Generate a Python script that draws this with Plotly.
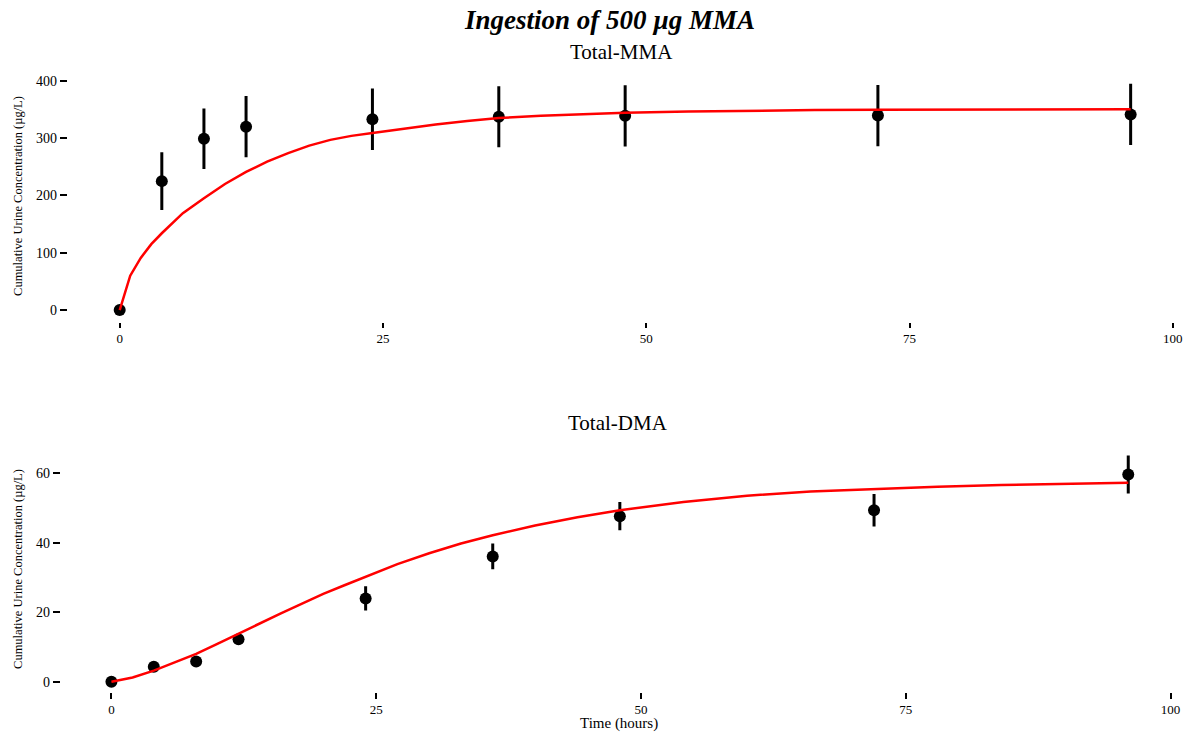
import plotly.graph_objects as go

# ---- data ----
obs_time = [0, 4, 8, 12, 24, 36, 48, 72, 96]

mma_mean = [0, 225, 299, 320, 333, 337.5, 339, 339.5, 341.5]
mma_sd = [0, 50.5, 53, 53.5, 53.5, 53.3, 53.5, 53.5, 53.5]

dma_mean = [0, 4.3, 5.8, 12.2, 24.0, 36.1, 47.7, 49.4, 59.7]
dma_sd = [0, 0.8, 0.8, 0.8, 3.5, 3.7, 4.05, 4.7, 5.45]

mma_fit_time = [0, 1, 2, 3, 4, 5, 6, 8, 10, 12, 14, 16, 18, 20, 22, 24, 27, 30, 33, 36,
                40, 44, 48, 54, 60, 66, 72, 78, 84, 90, 96]
mma_fit = [0, 60, 91, 115, 134, 152, 169, 195, 220, 241, 259, 274, 287, 297, 304, 309,
           317, 324, 330, 335, 339, 342, 344.5, 346.5, 348, 349, 349.5, 350, 350.3, 350.5, 350.5]

dma_fit_time = [0, 2, 4, 6, 8, 10, 12, 14, 16, 18, 20, 22, 24, 27, 30, 33, 36, 40, 44, 48,
                54, 60, 66, 72, 78, 84, 90, 96]
dma_fit = [0, 1.2, 3.2, 5.5, 8.0, 10.9, 13.9, 16.8, 19.7, 22.5, 25.3, 27.8, 30.2, 33.9,
           37.0, 39.8, 42.2, 45.0, 47.4, 49.4, 51.8, 53.6, 54.8, 55.6, 56.2, 56.7, 57.0, 57.3]

x_ticks = [0, 25, 50, 75, 100]
mma_y_ticks = [0, 100, 200, 300, 400]
dma_y_ticks = [0, 20, 40, 60]

main_title = "<b><i>Ingestion of 500 µg MMA</i></b>"
panel_titles = ["Total-MMA", "Total-DMA"]
y_title = "Cumulative Urine Concentration (µg/L)"
x_title = "Time (hours)"

FONT = "Liberation Serif"
W, H = 1192, 736

fig = go.Figure()

# Top panel
fig.add_trace(go.Scatter(
    x=obs_time, y=mma_mean, mode="markers",
    marker=dict(color="black", size=12),
    error_y=dict(type="data", array=mma_sd, visible=True, color="black", thickness=3, width=0),
    xaxis="x", yaxis="y", showlegend=False))
fig.add_trace(go.Scatter(
    x=mma_fit_time, y=mma_fit, mode="lines",
    line=dict(color="#ff0000", width=2.5),
    xaxis="x", yaxis="y", showlegend=False))

# Bottom panel
fig.add_trace(go.Scatter(
    x=obs_time, y=dma_mean, mode="markers",
    marker=dict(color="black", size=12),
    error_y=dict(type="data", array=dma_sd, visible=True, color="black", thickness=3, width=0),
    xaxis="x2", yaxis="y2", showlegend=False))
fig.add_trace(go.Scatter(
    x=dma_fit_time, y=dma_fit, mode="lines",
    line=dict(color="#ff0000", width=2.5),
    xaxis="x2", yaxis="y2", showlegend=False))


def axis(size, **kw):
    d = dict(showgrid=False, zeroline=False, showline=False,
             ticks="outside", tickcolor="black", tickwidth=2,
             tickfont=dict(family=FONT, size=size, color="black"))
    d.update(kw)
    return d


def px_x(p):
    return p / W


def px_y(p):
    return 1 - p / H


fig.update_layout(
    width=W, height=H,
    margin=dict(l=0, r=0, t=0, b=0),
    paper_bgcolor="white", plot_bgcolor="white",
    font=dict(family=FONT, color="black"),
    xaxis=axis(13, domain=[px_x(68), px_x(1182)], range=[-4.93, 100.5],
               tickvals=x_ticks, ticklen=5, anchor="y"),
    yaxis=axis(14, domain=[px_y(321.7), px_y(70)], range=[-20.4, 419],
               tickvals=mma_y_ticks, ticklen=7, anchor="x"),
    xaxis2=axis(13, domain=[px_x(61), px_x(1182)], range=[-4.78, 100.7],
                tickvals=x_ticks, ticklen=6, anchor="y2"),
    yaxis2=axis(14, domain=[px_y(691.7), px_y(445)], range=[-2.88, 68.2],
                tickvals=dma_y_ticks, ticklen=7, anchor="x2"),
)

annos = [
    dict(text=main_title, x=px_x(612), y=px_y(20), font=dict(size=27)),
    dict(text=panel_titles[0], x=px_x(624), y=px_y(52), font=dict(size=21)),
    dict(text=panel_titles[1], x=px_x(620), y=px_y(423), font=dict(size=21)),
    dict(text=x_title, x=px_x(621), y=px_y(723), font=dict(size=15)),
    dict(text=y_title, x=px_x(18), y=px_y(196), font=dict(size=12.5), textangle=-90),
    dict(text=y_title, x=px_x(18), y=px_y(569), font=dict(size=12.5), textangle=-90),
]
for a in annos:
    a.update(xref="paper", yref="paper", showarrow=False, xanchor="center", yanchor="middle")
    a["font"] = dict(family=FONT, color="black", **a["font"])
    fig.add_annotation(**a)

fig.write_html("out.html")
